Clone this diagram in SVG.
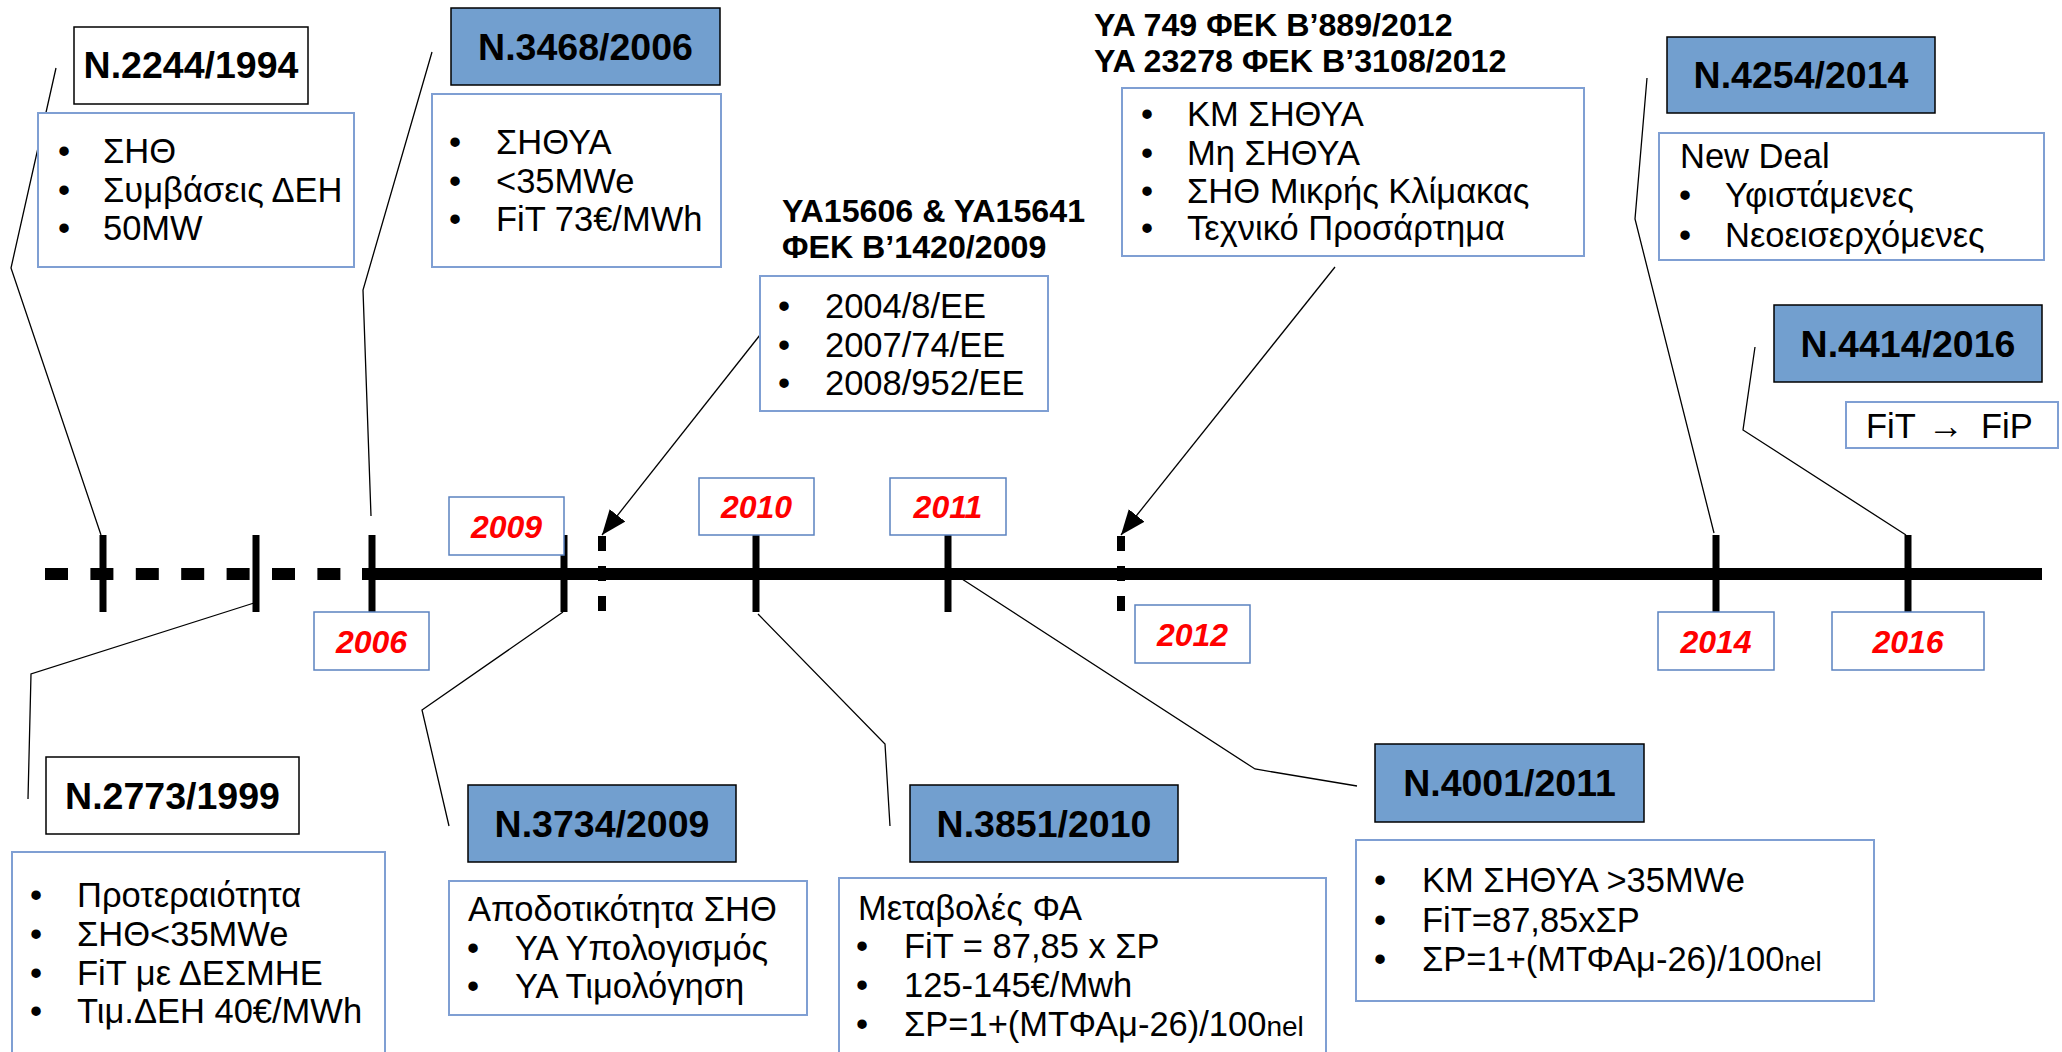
<svg xmlns="http://www.w3.org/2000/svg" width="2062" height="1052" viewBox="0 0 2062 1052">
<defs>
<style>
.law{fill:#ffffff;stroke:#000000;stroke-width:1.5}
.lawb{fill:#729fcf;stroke:#000000;stroke-width:1.5}
.ct{fill:#ffffff;stroke:#7f9fd3;stroke-width:2}
.yb{fill:#ffffff;stroke:#5b82c0;stroke-width:1.5}
.lt{font-family:"Liberation Sans",Arial,sans-serif;font-weight:bold;font-size:37.5px;fill:#000;text-anchor:middle}
.hd{font-family:"Liberation Sans",Arial,sans-serif;font-weight:bold;font-size:32.2px;fill:#000}
.tx{font-family:"Liberation Sans",Arial,sans-serif;font-size:34.5px;fill:#000}
.bu{font-family:"Liberation Sans",Arial,sans-serif;font-size:34.5px;fill:#000;text-anchor:middle}
.yr{font-family:"Liberation Sans",Arial,sans-serif;font-weight:bold;font-style:italic;font-size:32px;fill:#ff0000;text-anchor:middle}
.cn{fill:none;stroke:#000;stroke-width:1.3}
.tick{stroke:#000;stroke-width:7}
.dtick{stroke:#000;stroke-width:8;stroke-dasharray:15 15}
</style>
<marker id="arr" markerUnits="userSpaceOnUse" markerWidth="28" markerHeight="22" refX="25" refY="10" orient="auto">
<path d="M0,0 L25,10 L0,20 z" fill="#000"/>
</marker>
</defs>
<rect width="2062" height="1052" fill="#ffffff"/>

<g id="timeline">
<line x1="45" y1="574" x2="362" y2="574" stroke="#000" stroke-width="12" stroke-dasharray="23 22.4"/>
<line x1="362" y1="574" x2="2042" y2="574" stroke="#000" stroke-width="12"/>
<line class="tick" x1="103" y1="535" x2="103" y2="612"/>
<line class="tick" x1="256" y1="535" x2="256" y2="612"/>
<line class="tick" x1="372" y1="535" x2="372" y2="612"/>
<line class="tick" x1="564" y1="535" x2="564" y2="612"/>
<line class="dtick" x1="602" y1="536" x2="602" y2="611"/>
<line class="tick" x1="756" y1="535" x2="756" y2="612"/>
<line class="tick" x1="948" y1="535" x2="948" y2="612"/>
<line class="dtick" x1="1121" y1="536" x2="1121" y2="611"/>
<line class="tick" x1="1716" y1="535" x2="1716" y2="612"/>
<line class="tick" x1="1908" y1="535" x2="1908" y2="612"/>
</g>

<g id="connectors">
<polyline class="cn" points="56,68 11,268 101,535"/>
<polyline class="cn" points="432,52 363,290 371,516"/>
<polyline class="cn" points="254,603 31,674 28,799"/>
<polyline class="cn" points="563,612 422,710 449,826"/>
<polyline class="cn" points="758,614 885,744 890,826"/>
<polyline class="cn" points="962,579 1255,769 1357,786"/>
<polyline class="cn" points="1647,78 1635,219 1714,533"/>
<polyline class="cn" points="1755,347 1743,430 1906,535"/>
<line class="cn" x1="760" y1="335" x2="602" y2="535" marker-end="url(#arr)"/>
<line class="cn" x1="1335" y1="267" x2="1121" y2="535" marker-end="url(#arr)"/>
</g>

<g id="y2006"><rect class="yb" x="314" y="612" width="115" height="58"/><text class="yr" x="371.5" y="652.5">2006</text></g>
<g id="y2009"><rect class="yb" x="449" y="497" width="115" height="58"/><text class="yr" x="506.5" y="537.5">2009</text></g>
<g id="y2010"><rect class="yb" x="699" y="478" width="115" height="57"/><text class="yr" x="756.5" y="518">2010</text></g>
<g id="y2011"><rect class="yb" x="890" y="478" width="116" height="57"/><text class="yr" x="948" y="518">2011</text></g>
<g id="y2012"><rect class="yb" x="1135" y="605" width="115" height="58"/><text class="yr" x="1192.5" y="645.5">2012</text></g>
<g id="y2014"><rect class="yb" x="1658" y="612" width="116" height="58"/><text class="yr" x="1716" y="652.5">2014</text></g>
<g id="y2016"><rect class="yb" x="1832" y="612" width="152" height="58"/><text class="yr" x="1908" y="652.5">2016</text></g>

<g id="n2244">
<rect class="law" x="74" y="27" width="234" height="77"/>
<text class="lt" x="191" y="78">N.2244/1994</text>
</g>
<g id="c2244">
<rect class="ct" x="38" y="113" width="316" height="154"/>
<text class="bu" x="64" y="163">•</text><text class="tx" x="103" y="163">ΣΗΘ</text>
<text class="bu" x="64" y="202">•</text><text class="tx" x="103" y="202">Συμβάσεις ΔΕΗ</text>
<text class="bu" x="64" y="240">•</text><text class="tx" x="103" y="240">50MW</text>
</g>

<g id="n3468">
<rect class="lawb" x="451" y="8" width="269" height="77"/>
<text class="lt" x="585.5" y="59.5">N.3468/2006</text>
</g>
<g id="c3468">
<rect class="ct" x="432" y="94" width="289" height="173"/>
<text class="bu" x="455" y="154">•</text><text class="tx" x="496" y="154">ΣΗΘΥΑ</text>
<text class="bu" x="455" y="192.5">•</text><text class="tx" x="496" y="192.5">&lt;35MWe</text>
<text class="bu" x="455" y="231">•</text><text class="tx" x="496" y="231">FiT 73€/MWh</text>
</g>

<g id="ya2009">
<text class="hd" x="782" y="222">YA15606 &amp; YA15641</text>
<text class="hd" x="782" y="258">ΦΕΚ Β’1420/2009</text>
<rect class="ct" x="760" y="276" width="288" height="135"/>
<text class="bu" x="784" y="318">•</text><text class="tx" x="825" y="318">2004/8/EE</text>
<text class="bu" x="784" y="356.5">•</text><text class="tx" x="825" y="356.5">2007/74/EE</text>
<text class="bu" x="784" y="395">•</text><text class="tx" x="825" y="395">2008/952/EE</text>
</g>

<g id="ya2012">
<text class="hd" x="1094" y="36">YA 749 ΦΕΚ Β’889/2012</text>
<text class="hd" x="1094" y="72">YA 23278 ΦΕΚ Β’3108/2012</text>
<rect class="ct" x="1122" y="88" width="462" height="168"/>
<text class="bu" x="1147" y="126">•</text><text class="tx" x="1187" y="126">ΚΜ ΣΗΘΥΑ</text>
<text class="bu" x="1147" y="165">•</text><text class="tx" x="1187" y="165">Μη ΣΗΘΥΑ</text>
<text class="bu" x="1147" y="203">•</text><text class="tx" x="1187" y="203">ΣΗΘ Μικρής Κλίμακας</text>
<text class="bu" x="1147" y="240">•</text><text class="tx" x="1187" y="240">Τεχνικό Προσάρτημα</text>
</g>

<g id="n4254">
<rect class="lawb" x="1667" y="37" width="268" height="76"/>
<text class="lt" x="1801" y="88">N.4254/2014</text>
</g>
<g id="c4254">
<rect class="ct" x="1659" y="133" width="385" height="127"/>
<text class="tx" x="1680" y="168">New Deal</text>
<text class="bu" x="1685" y="207">•</text><text class="tx" x="1725" y="207">Υφιστάμενες</text>
<text class="bu" x="1685" y="247">•</text><text class="tx" x="1725" y="247">Νεοεισερχόμενες</text>
</g>

<g id="n4414">
<rect class="lawb" x="1774" y="305" width="268" height="77"/>
<text class="lt" x="1908" y="356.5">N.4414/2016</text>
</g>
<g id="c4414">
<rect class="ct" x="1846" y="402" width="212" height="46"/>
<text class="tx" x="1866" y="438">FiT<tspan x="1928" font-size="36">→</tspan><tspan x="1981">FiP</tspan></text>
</g>

<g id="n2773">
<rect class="law" x="46" y="757" width="253" height="77"/>
<text class="lt" x="172.5" y="808.5">N.2773/1999</text>
</g>
<g id="c2773">
<rect class="ct" x="12" y="852" width="373" height="215"/>
<text class="bu" x="36" y="907">•</text><text class="tx" x="77" y="907">Προτεραιότητα</text>
<text class="bu" x="36" y="946">•</text><text class="tx" x="77" y="946">ΣΗΘ&lt;35MWe</text>
<text class="bu" x="36" y="985">•</text><text class="tx" x="77" y="985">FiT με ΔΕΣΜΗΕ</text>
<text class="bu" x="36" y="1023">•</text><text class="tx" x="77" y="1023">Τιμ.ΔΕΗ 40€/MWh</text>
</g>

<g id="n3734">
<rect class="lawb" x="468" y="785" width="268" height="77"/>
<text class="lt" x="602" y="836.5">N.3734/2009</text>
</g>
<g id="c3734">
<rect class="ct" x="449" y="881" width="358" height="134"/>
<text class="tx" x="468" y="921">Αποδοτικότητα ΣΗΘ</text>
<text class="bu" x="473" y="960">•</text><text class="tx" x="515" y="960">ΥΑ Υπολογισμός</text>
<text class="bu" x="473" y="998">•</text><text class="tx" x="515" y="998">ΥΑ Τιμολόγηση</text>
</g>

<g id="n3851">
<rect class="lawb" x="910" y="785" width="268" height="77"/>
<text class="lt" x="1044" y="836.5">N.3851/2010</text>
</g>
<g id="c3851">
<rect class="ct" x="839" y="878" width="487" height="190"/>
<text class="tx" x="858" y="920">Μεταβολές ΦΑ</text>
<text class="bu" x="862" y="958">•</text><text class="tx" x="904" y="958">FiT = 87,85 x ΣΡ</text>
<text class="bu" x="862" y="997">•</text><text class="tx" x="904" y="997">125-145€/Mwh</text>
<text class="bu" x="862" y="1036">•</text><text class="tx" x="904" y="1036">ΣΡ=1+(ΜΤΦΑμ-26)/100<tspan font-size="28">nel</tspan></text>
</g>

<g id="n4001">
<rect class="lawb" x="1375" y="744" width="269" height="78"/>
<text class="lt" x="1509.5" y="796">N.4001/2011</text>
</g>
<g id="c4001">
<rect class="ct" x="1356" y="840" width="518" height="161"/>
<text class="bu" x="1380" y="892">•</text><text class="tx" x="1422" y="892">ΚΜ ΣΗΘΥΑ &gt;35MWe</text>
<text class="bu" x="1380" y="932">•</text><text class="tx" x="1422" y="932">FiT=87,85xΣΡ</text>
<text class="bu" x="1380" y="971">•</text><text class="tx" x="1422" y="971">ΣΡ=1+(ΜΤΦΑμ-26)/100<tspan font-size="28">nel</tspan></text>
</g>
</svg>
